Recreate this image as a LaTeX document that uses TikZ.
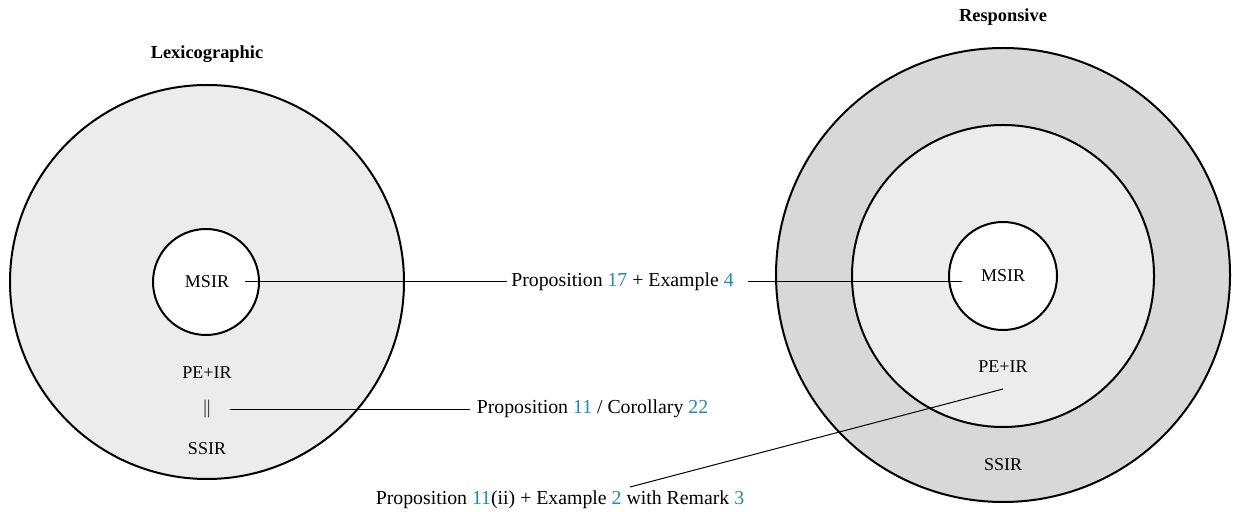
\documentclass[tikz,border=0pt]{standalone}
\usepackage{fontspec}
\setmainfont{Liberation Serif}
\definecolor{linkblue}{RGB}{35,138,178}
\definecolor{lightfill}{RGB}{236,236,236}
\definecolor{darkfill}{RGB}{216,216,216}
\newcommand{\lnk}[1]{\textcolor{linkblue}{#1}}
\begin{document}
\begin{tikzpicture}[x=0.5pt,y=-0.5pt,
  ring/.style={circle,draw,line width=1pt,inner sep=0pt},
  lbl/.style={font=\fontsize{9}{11}\selectfont,inner sep=0pt},
  plbl/.style={font=\fontsize{9.9}{12}\selectfont,inner sep=0pt},
  title/.style={font=\fontsize{9.2}{11}\selectfont\bfseries,inner sep=0pt},
  conn/.style={line width=0.5pt}]
\useasboundingbox (0,0) rectangle (1234,512);
% left diagram
\node[ring,fill=lightfill,minimum size=197pt] (bigL) at (207,282) {};
\node[ring,fill=white,minimum size=53pt] (msirLc) at (206,282) {};
\node[lbl] (msirL) at (207,282) {MSIR};
\node[lbl] (peirL) at (207,373) {PE+IR};
\node[lbl] (eqL) at (207,409) {$\|$};
\node[lbl] (ssirL) at (207,449) {SSIR};
\node[title] (lex) at (207,54) {Lexicographic};
% right diagram
\node[ring,fill=darkfill,minimum size=227pt] (bigR) at (1003,275) {};
\node[ring,fill=lightfill,minimum size=151pt] (midR) at (1003,276) {};
\node[ring,fill=white,minimum size=54pt] (msirRc) at (1003,276) {};
\node[lbl] (msirR) at (1003,276) {MSIR};
\node[lbl] (peirR) at (1003,367) {PE+IR};
\node[lbl] (ssirR) at (1003,465) {SSIR};
\node[title] (resp) at (1003,17) {Responsive};
% labels
\node[plbl] (p17) at (622.5,282) {Proposition \lnk{17} + Example \lnk{4}};
\node[plbl] (p11) at (592.5,409) {Proposition \lnk{11} / Corollary \lnk{22}};
\node[plbl] (p11ii) at (560,500) {Proposition \lnk{11}(ii) + Example \lnk{2} with Remark \lnk{3}};
% connector end points
\coordinate (a1) at (245,282);
\coordinate (a2) at (507,282);
\coordinate (a3) at (748,282);
\coordinate (a4) at (962,282);
\coordinate (b1) at (230,409);
\coordinate (b2) at (470,409);
\coordinate (c1) at (1003,389);
\coordinate (c2) at (630,487);
\draw[conn] (a1) -- (a2);
\draw[conn] (a3) -- (a4);
\draw[conn] (b1) -- (b2);
\draw[conn] (c1) -- (c2);
\end{tikzpicture}
\end{document}
